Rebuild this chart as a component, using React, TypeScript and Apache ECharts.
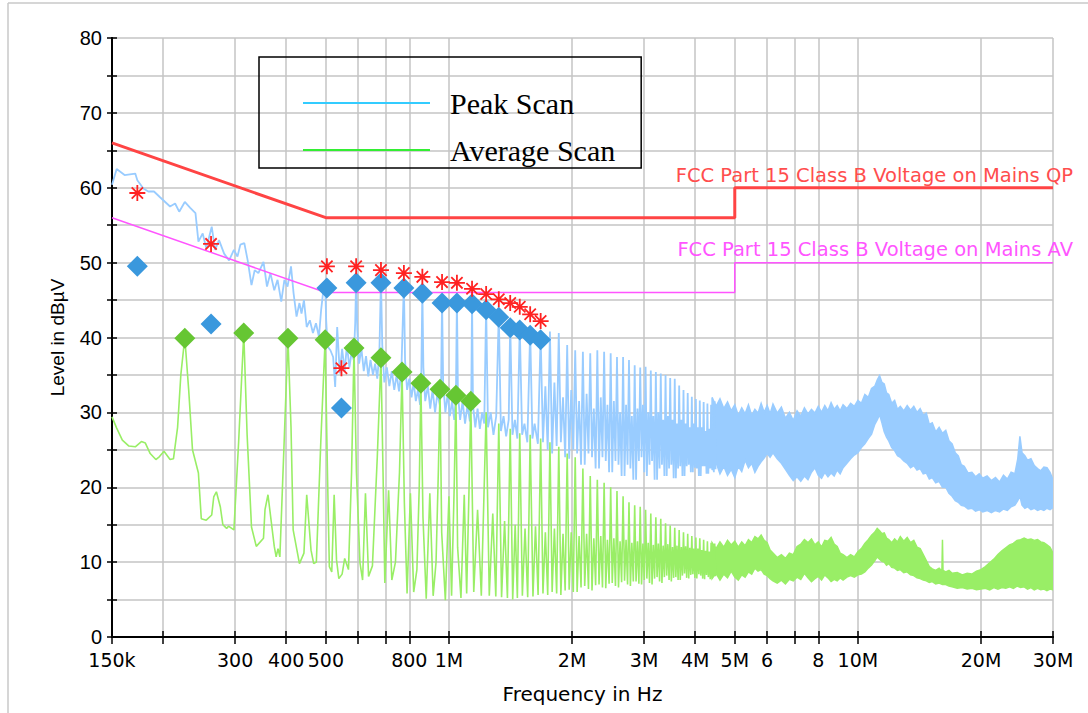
import React, { useEffect, useRef } from "react";
import * as echarts from "echarts";

// ---------- axis ticks (frequency in MHz) ----------
const tickFreqMHz = [0.15, 0.2, 0.3, 0.4, 0.5, 0.6, 0.7, 0.8, 1, 2, 3, 4, 5, 6, 7, 8, 10, 20, 30];
const tickLabels = ["150k", "", "300", "400", "500", "", "", "800", "1M", "2M", "3M", "4M", "5M", "6", "", "8", "10M", "20M", "30M"];

// ---------- limit lines ----------
const qpLimit: [number, number][] = [[0.15, 66], [0.5, 56], [5, 56], [5, 60], [30, 60]];
const avLimit: [number, number][] = [[0.15, 56], [0.5, 46], [5, 46], [5, 50], [30, 50]];

// ---------- Peak scan trace (MHz, dBuV) ----------
const peakTrace: [number, number][] = [
  [0.150, 60.4], [0.154, 62.5], [0.161, 61.7], [0.171, 61.9], [0.173, 61.0], [0.179, 59.9], [0.184, 59.5], [0.190, 59.5],
  [0.196, 58.8], [0.208, 57.5], [0.214, 57.9], [0.219, 56.8], [0.226, 58.1], [0.233, 57.3], [0.240, 56.6], [0.244, 52.8],
  [0.250, 53.9], [0.255, 51.9], [0.263, 54.8], [0.268, 51.7], [0.274, 53.0], [0.282, 51.2], [0.290, 50.3], [0.298, 51.7],
  [0.304, 50.8], [0.309, 52.4], [0.316, 52.6], [0.322, 50.3], [0.329, 47.0], [0.335, 49.0], [0.342, 48.6], [0.352, 50.1],
  [0.359, 46.8], [0.366, 48.6], [0.374, 46.3], [0.381, 47.7], [0.389, 44.8], [0.396, 47.7], [0.403, 46.8], [0.411, 49.5],
  [0.417, 45.9], [0.424, 42.8], [0.431, 44.6], [0.436, 43.2], [0.442, 45.0], [0.449, 41.4], [0.457, 42.3], [0.465, 40.6],
  [0.473, 41.9], [0.481, 40.1], [0.487, 43.7], [0.493, 46.3], [0.498, 47.3], [0.501, 42.3], [0.505, 38.8], [0.513, 38.3],
  [0.521, 37.4], [0.527, 33.4], [0.533, 41.4], [0.541, 35.2], [0.548, 38.5], [0.556, 35.5], [0.563, 39.0], [0.571, 36.0],
  [0.578, 38.0], [0.585, 37.0], [0.590, 42.0], [0.593, 47.8], [0.597, 41.0], [0.603, 36.5], [0.611, 38.5], [0.619, 35.5],
  [0.627, 37.5], [0.635, 34.8], [0.643, 37.0], [0.652, 35.0], [0.660, 36.5], [0.668, 34.5], [0.676, 38.0], [0.682, 47.8],
  [0.687, 39.0], [0.695, 34.0], [0.705, 36.0], [0.715, 33.5], [0.725, 35.5], [0.735, 33.0], [0.745, 35.0], [0.755, 32.8],
  [0.765, 35.5], [0.776, 47.2], [0.781, 37.0], [0.790, 33.0], [0.800, 34.5], [0.810, 32.0], [0.820, 34.0], [0.830, 31.5],
  [0.840, 33.0], [0.850, 31.0], [0.856, 35.0], [0.861, 46.5], [0.866, 36.0], [0.875, 31.5], [0.888, 33.5], [0.900, 30.5],
  [0.912, 33.0], [0.925, 30.0], [0.937, 32.5], [0.950, 31.0], [0.957, 34.0], [0.962, 45.2], [0.968, 34.0], [0.980, 30.0],
  [0.993, 32.5], [1.005, 29.5], [1.018, 31.5], [1.030, 29.0], [1.040, 32.0], [1.046, 45.2], [1.052, 32.5], [1.065, 29.0],
  [1.080, 31.5], [1.095, 28.5], [1.110, 31.0], [1.125, 28.8], [1.134, 32.0], [1.139, 45.0], [1.145, 31.0], [1.160, 28.0],
  [1.175, 30.5], [1.190, 27.8], [1.205, 30.0], [1.220, 28.5], [1.233, 44.3], [1.246, 28.0], [1.265, 30.0], [1.285, 27.0],
  [1.305, 29.5], [1.324, 43.3], [1.340, 27.5], [1.360, 29.5], [1.380, 26.8], [1.400, 29.0], [1.412, 42.0], [1.430, 27.0],
  [1.450, 29.0], [1.470, 26.5], [1.490, 41.5], [1.510, 27.0], [1.530, 28.5], [1.555, 26.0], [1.580, 41.0], [1.600, 26.5],
  [1.620, 28.5], [1.650, 25.8],
  [1.676, 40.4], [1.698, 26.0], [1.721, 33.5], [1.744, 25.0], [1.766, 40.8], [1.788, 24.5], [1.811, 34.0], [1.834, 25.5],
  [1.856, 40.6], [1.878, 26.0], [1.901, 32.0], [1.924, 24.0], [1.946, 39.0], [1.968, 23.8], [1.991, 33.0], [2.014, 25.0],
  [2.036, 38.3], [2.058, 24.5], [2.081, 31.5], [2.104, 23.0], [2.126, 38.1], [2.148, 23.0], [2.171, 32.5], [2.194, 24.5],
  [2.216, 37.9], [2.238, 24.0], [2.261, 30.5], [2.284, 22.5], [2.306, 38.3], [2.328, 22.5], [2.351, 32.0], [2.374, 24.0],
  [2.396, 38.1], [2.418, 23.5], [2.441, 31.0], [2.464, 22.0], [2.486, 37.9], [2.508, 22.0], [2.531, 31.5], [2.554, 23.5],
  [2.576, 37.4], [2.598, 23.0], [2.621, 30.0], [2.644, 21.5], [2.666, 37.4], [2.688, 21.5], [2.711, 31.0], [2.734, 23.0],
  [2.756, 37.0], [2.778, 22.5], [2.801, 29.5], [2.824, 21.0], [2.846, 36.3], [2.868, 21.0], [2.891, 30.5], [2.914, 23.5],
  [2.936, 36.0], [2.958, 24.0], [2.981, 31.0], [3.004, 22.0], [3.026, 36.1], [3.048, 21.5], [3.071, 30.0], [3.094, 23.0],
  [3.116, 35.6], [3.138, 23.5], [3.161, 29.5], [3.184, 21.0], [3.206, 35.4], [3.228, 21.0], [3.251, 30.0], [3.274, 22.5],
  [3.296, 35.2], [3.318, 23.0], [3.341, 29.0], [3.364, 21.5], [3.386, 35.0], [3.408, 21.5], [3.431, 29.5], [3.454, 22.5],
  [3.476, 34.6], [3.498, 23.0], [3.521, 29.0], [3.544, 21.2], [3.566, 34.5], [3.588, 21.2], [3.611, 28.5], [3.634, 22.5],
  [3.656, 33.6], [3.678, 22.8], [3.701, 29.0], [3.724, 21.5], [3.746, 33.0], [3.768, 21.5], [3.791, 28.5], [3.814, 22.8],
  [3.836, 32.6], [3.858, 23.0], [3.881, 28.0], [3.904, 22.0], [3.926, 32.1], [3.948, 22.0], [3.971, 28.5], [3.994, 22.6],
  [4.016, 31.8], [4.038, 22.5], [4.061, 28.0], [4.084, 21.5], [4.106, 31.6], [4.128, 21.5], [4.151, 28.0], [4.174, 22.8],
  [4.196, 31.4], [4.218, 22.8], [4.241, 27.5], [4.264, 21.8], [4.286, 31.2], [4.308, 21.8], [4.331, 27.8], [4.354, 22.5],
  [4.376, 31.0], [4.398, 22.5], [4.421, 28.0], [4.444, 22.0], [4.466, 31.5], [4.488, 22.4],
];

// dense part of the peak scan: upper / lower envelope
const peakBandHigh: [number, number][] = [
  [4.4, 32.0], [4.5, 30.8], [4.6, 31.8], [4.7, 30.5], [4.8, 31.4], [4.9, 30.2], [5.0, 31.0], [5.1, 29.6], [5.2, 30.6],
  [5.3, 29.8], [5.4, 31.0], [5.5, 29.6], [5.6, 30.4], [5.7, 29.9], [5.8, 31.2], [5.9, 30.0], [6.0, 30.9], [6.1, 29.8],
  [6.2, 31.1], [6.35, 29.9], [6.5, 30.7], [6.65, 29.2], [6.8, 30.0], [6.95, 28.9], [7.1, 30.2], [7.25, 29.5], [7.4, 30.6],
  [7.55, 29.8], [7.7, 30.4], [7.85, 29.9], [8.0, 30.8], [8.15, 30.0], [8.3, 30.9], [8.45, 30.2], [8.6, 31.3], [8.75, 30.4],
  [8.9, 30.9], [9.05, 30.2], [9.2, 31.0], [9.4, 30.5], [9.6, 31.2], [9.8, 30.8], [10.0, 31.6], [10.2, 31.2], [10.4, 32.4],
  [10.6, 32.0], [10.8, 33.2], [11.0, 33.5], [11.15, 34.3], [11.3, 34.9], [11.45, 34.0], [11.6, 33.8], [11.75, 32.6],
  [11.9, 32.4], [12.1, 31.2], [12.3, 31.6], [12.5, 30.4], [12.7, 30.8], [12.95, 30.2], [13.2, 30.9], [13.45, 30.3],
  [13.7, 30.8], [13.95, 30.0], [14.2, 30.5], [14.45, 29.6], [14.7, 29.9], [14.95, 28.4], [15.2, 28.6], [15.5, 27.4],
  [15.8, 28.0], [16.1, 27.2], [16.4, 27.6], [16.7, 26.2], [17.0, 25.8], [17.3, 24.6], [17.6, 24.2], [17.9, 23.0],
  [18.2, 22.8], [18.6, 21.9], [19.0, 22.0], [19.4, 21.4], [19.8, 21.8], [20.2, 21.2], [20.7, 21.5], [21.2, 20.9],
  [21.7, 21.3], [22.2, 20.7], [22.7, 21.6], [23.2, 21.1], [23.7, 22.0], [24.2, 21.8], [24.6, 23.8], [24.9, 26.8],
  [25.2, 24.6], [25.6, 24.2], [26.0, 23.6], [26.5, 23.8], [27.0, 22.9], [27.5, 22.5], [28.0, 22.2], [28.5, 22.7],
  [29.0, 22.6], [29.5, 22.0], [30.0, 21.0],
];
const peakBandLow: [number, number][] = [
  [4.4, 22.3], [4.5, 23.3], [4.6, 21.8], [4.7, 22.8], [4.8, 21.6], [4.9, 22.4], [5.0, 21.3], [5.1, 22.8], [5.2, 22.1],
  [5.3, 23.6], [5.4, 22.6], [5.5, 23.2], [5.6, 22.0], [5.7, 22.8], [5.8, 23.4], [5.9, 23.9], [6.0, 24.5], [6.1, 24.0],
  [6.2, 24.6], [6.35, 23.8], [6.5, 23.2], [6.65, 22.4], [6.8, 21.6], [6.95, 20.9], [7.1, 21.4], [7.25, 20.8], [7.4, 21.5],
  [7.55, 21.0], [7.7, 22.0], [7.85, 22.6], [8.0, 21.6], [8.15, 21.2], [8.3, 22.0], [8.45, 21.4], [8.6, 21.9], [8.75, 21.5],
  [8.9, 22.3], [9.05, 21.8], [9.2, 22.6], [9.4, 23.2], [9.6, 23.8], [9.8, 24.3], [10.0, 24.6], [10.2, 25.3], [10.4, 25.8],
  [10.6, 26.5], [10.8, 27.1], [11.0, 28.4], [11.15, 29.0], [11.3, 29.7], [11.45, 28.6], [11.6, 27.4], [11.75, 26.7],
  [11.9, 26.2], [12.1, 25.3], [12.3, 24.9], [12.5, 24.2], [12.7, 24.0], [12.95, 23.5], [13.2, 23.2], [13.45, 22.6],
  [13.7, 22.9], [13.95, 22.3], [14.2, 22.5], [14.45, 21.8], [14.7, 21.9], [14.95, 21.1], [15.2, 21.3], [15.5, 20.6],
  [15.8, 20.8], [16.1, 20.0], [16.4, 20.0], [16.7, 19.2], [17.0, 18.8], [17.3, 18.2], [17.6, 18.0], [17.9, 17.6],
  [18.2, 17.5], [18.6, 17.1], [19.0, 17.2], [19.4, 16.8], [19.8, 17.0], [20.2, 16.7], [20.7, 16.9], [21.2, 16.6],
  [21.7, 16.9], [22.2, 16.7], [22.7, 17.1], [23.2, 16.9], [23.7, 17.4], [24.2, 17.6], [24.6, 18.2], [24.9, 18.8],
  [25.2, 17.6], [25.6, 17.2], [26.0, 17.4], [26.5, 17.0], [27.0, 17.2], [27.5, 16.9], [28.0, 17.1], [28.5, 16.9],
  [29.0, 17.2], [29.5, 17.0], [30.0, 17.3],
];

// ---------- Average scan trace ----------
const avgTrace: [number, number][] = [
  [0.150, 29.4], [0.154, 27.9], [0.159, 26.3], [0.165, 25.5], [0.171, 25.4], [0.177, 26.1], [0.181, 25.9], [0.186, 24.5],
  [0.192, 23.7], [0.196, 24.1], [0.201, 24.8], [0.208, 23.7], [0.212, 23.8], [0.217, 28.0], [0.221, 35.0], [0.226, 40.0],
  [0.231, 33.0], [0.236, 25.0], [0.244, 21.9], [0.248, 15.8], [0.255, 15.6], [0.263, 16.3], [0.266, 18.7], [0.270, 19.4],
  [0.276, 17.4], [0.280, 15.0], [0.286, 14.5], [0.289, 14.8], [0.298, 14.3], [0.306, 26.0], [0.315, 40.6], [0.321, 27.0],
  [0.329, 14.7], [0.338, 12.1], [0.352, 13.2], [0.355, 17.0], [0.361, 19.0], [0.374, 12.1], [0.378, 10.7], [0.382, 11.8],
  [0.386, 10.7], [0.396, 27.0], [0.404, 39.9], [0.411, 28.0], [0.416, 14.3], [0.431, 9.8], [0.442, 11.2], [0.449, 19.0],
  [0.460, 11.6], [0.467, 9.8], [0.474, 10.0], [0.486, 26.0], [0.498, 39.7], [0.505, 21.0], [0.510, 9.4], [0.517, 8.7],
  [0.524, 19.0], [0.531, 10.3], [0.538, 7.8], [0.548, 8.4], [0.556, 10.5], [0.568, 9.0], [0.578, 22.0], [0.586, 38.6],
  [0.594, 22.0], [0.606, 9.9], [0.615, 7.6], [0.625, 19.2], [0.636, 8.1], [0.650, 9.5], [0.668, 24.0], [0.682, 37.3],
  [0.690, 22.0], [0.697, 7.2], [0.712, 19.6], [0.725, 7.6], [0.740, 10.0], [0.757, 22.0], [0.768, 35.4], [0.778, 18.0],
  [0.790, 5.8], [0.805, 19.2], [0.820, 6.0], [0.835, 9.0], [0.846, 20.0], [0.854, 33.9], [0.864, 16.0], [0.880, 5.1],
  [0.898, 19.2], [0.915, 5.5], [0.930, 10.0], [0.942, 22.0], [0.951, 33.1], [0.960, 14.0], [0.980, 4.9], [1.000, 18.8],
  [1.015, 5.5], [1.030, 20.0], [1.040, 32.3], [1.050, 12.0], [1.070, 5.2], [1.090, 19.0], [1.105, 5.8], [1.120, 20.0],
  [1.131, 31.5], [1.150, 6.0], [1.175, 17.0], [1.200, 5.5], [1.233, 30.0], [1.255, 5.5], [1.280, 16.5], [1.302, 5.4],
  [1.324, 28.5], [1.345, 5.3], [1.368, 15.5], [1.390, 5.2], [1.412, 27.8], [1.432, 5.0], [1.452, 15.0], [1.470, 5.2],
  [1.490, 27.2], [1.512, 5.5], [1.535, 14.5], [1.558, 5.3], [1.580, 27.0], [1.605, 5.4], [1.628, 14.8], [1.652, 5.6],
  [1.676, 26.5], [1.698, 5.8], [1.721, 14.0], [1.744, 5.6], [1.766, 26.0], [1.788, 6.0], [1.811, 14.5], [1.834, 5.8],
  [1.856, 25.4], [1.878, 5.6], [1.901, 13.8], [1.924, 6.2], [1.946, 24.5], [1.968, 6.3], [1.991, 14.0], [2.014, 6.0],
  [2.036, 24.0], [2.058, 6.0], [2.081, 13.5], [2.104, 6.6], [2.126, 22.5], [2.148, 6.8], [2.171, 13.8], [2.194, 6.4],
  [2.216, 21.5], [2.238, 6.2], [2.261, 13.2], [2.284, 6.9], [2.306, 21.0], [2.328, 7.0], [2.351, 13.5], [2.374, 6.6],
  [2.396, 20.6], [2.418, 6.5], [2.441, 13.0], [2.464, 7.1], [2.486, 20.0], [2.508, 7.2], [2.531, 13.2], [2.554, 6.8],
  [2.576, 19.5], [2.598, 6.6], [2.621, 12.8], [2.644, 7.3], [2.666, 18.8], [2.688, 7.5], [2.711, 13.0], [2.734, 7.0],
  [2.756, 18.0], [2.778, 6.8], [2.801, 12.6], [2.824, 7.4], [2.846, 17.6], [2.868, 7.4], [2.891, 12.8], [2.914, 7.1],
  [2.936, 17.4], [2.958, 7.0], [2.981, 12.5], [3.004, 7.6], [3.026, 17.0], [3.048, 7.8], [3.071, 12.6], [3.094, 7.2],
  [3.116, 16.5], [3.138, 7.0], [3.161, 12.3], [3.184, 7.8], [3.206, 16.0], [3.228, 8.0], [3.251, 12.5], [3.274, 7.4],
  [3.296, 15.8], [3.318, 7.2], [3.341, 12.2], [3.364, 8.0], [3.386, 15.2], [3.408, 8.2], [3.431, 12.4], [3.454, 7.6],
  [3.476, 14.9], [3.498, 7.4], [3.521, 12.0], [3.544, 7.9], [3.566, 14.6], [3.588, 8.0], [3.611, 12.2], [3.634, 7.6],
  [3.656, 14.3], [3.678, 7.6], [3.701, 12.0], [3.724, 8.2], [3.746, 14.0], [3.768, 8.5], [3.791, 12.1], [3.814, 7.9],
  [3.836, 13.8], [3.858, 7.8], [3.881, 11.9], [3.904, 8.3], [3.926, 13.5], [3.948, 8.4], [3.971, 11.8], [3.994, 7.9],
  [4.016, 13.3], [4.038, 7.8], [4.061, 11.8], [4.084, 8.4], [4.106, 13.2], [4.128, 8.2], [4.151, 11.6], [4.174, 7.8],
  [4.196, 13.0], [4.218, 7.7], [4.241, 11.5], [4.264, 8.3], [4.286, 12.8], [4.308, 8.0], [4.331, 11.4], [4.354, 7.7],
  [4.376, 12.6], [4.398, 7.8], [4.421, 11.5], [4.444, 8.2], [4.466, 12.5], [4.488, 8.1],
];
const avgBandHigh: [number, number][] = [
  [4.4, 12.6], [4.5, 11.8], [4.6, 12.7], [4.7, 12.0], [4.8, 12.9], [4.9, 12.3], [5.0, 12.8], [5.1, 12.0], [5.2, 12.7],
  [5.3, 12.2], [5.4, 13.0], [5.5, 12.6], [5.6, 13.4], [5.7, 13.1], [5.8, 13.6], [5.9, 12.9], [6.0, 12.6], [6.1, 11.6],
  [6.2, 11.2], [6.35, 10.6], [6.5, 11.0], [6.65, 10.5], [6.8, 11.2], [6.95, 11.0], [7.1, 12.1], [7.25, 12.4], [7.4, 13.0],
  [7.55, 12.6], [7.7, 13.1], [7.85, 12.3], [8.0, 12.7], [8.15, 12.0], [8.3, 12.9], [8.45, 12.8], [8.6, 13.3], [8.75, 12.4],
  [8.9, 12.1], [9.05, 11.2], [9.2, 11.0], [9.4, 10.6], [9.6, 11.0], [9.8, 10.7], [10.0, 11.4], [10.2, 11.8], [10.4, 12.5],
  [10.6, 13.0], [10.8, 13.6], [11.0, 14.0], [11.15, 14.5], [11.3, 14.2], [11.45, 13.8], [11.6, 13.9], [11.75, 13.2],
  [11.9, 13.0], [12.1, 12.6], [12.3, 13.1], [12.5, 12.7], [12.7, 13.4], [12.95, 12.8], [13.2, 13.3], [13.45, 12.6],
  [13.7, 12.9], [13.95, 12.0], [14.2, 11.8], [14.45, 11.0], [14.7, 10.2], [14.95, 9.4], [15.2, 9.1], [15.5, 8.9],
  [15.8, 9.2], [16.05, 8.8], [16.1, 13.0], [16.15, 8.9], [16.4, 8.7], [16.7, 8.9], [17.0, 8.5], [17.5, 8.6], [18.0, 8.3],
  [18.5, 8.5], [19.0, 8.4], [19.5, 8.8], [20.0, 9.0], [20.5, 9.4], [21.0, 9.9], [21.5, 10.4], [22.0, 11.0], [22.5, 11.5],
  [23.0, 11.9], [23.5, 12.3], [24.0, 12.5], [24.5, 12.9], [25.0, 13.0], [25.5, 13.2], [26.0, 13.0], [26.5, 13.1],
  [27.0, 12.9], [27.5, 13.0], [28.0, 12.7], [28.5, 12.6], [29.0, 12.3], [29.5, 12.0], [30.0, 11.2],
];
const avgBandLow: [number, number][] = [
  [4.4, 7.8], [4.5, 8.5], [4.6, 7.6], [4.7, 8.4], [4.8, 7.9], [4.9, 8.8], [5.0, 8.0], [5.1, 7.6], [5.2, 8.3], [5.3, 8.0],
  [5.4, 8.7], [5.5, 8.4], [5.6, 9.2], [5.7, 8.8], [5.8, 9.0], [5.9, 8.4], [6.0, 8.2], [6.1, 7.8], [6.2, 7.5], [6.35, 7.2],
  [6.5, 7.6], [6.65, 7.1], [6.8, 7.7], [6.95, 7.5], [7.1, 8.0], [7.25, 7.7], [7.4, 8.5], [7.55, 7.9], [7.7, 7.4],
  [7.85, 7.8], [8.0, 8.1], [8.15, 7.6], [8.3, 8.3], [8.45, 7.9], [8.6, 7.4], [8.75, 7.7], [8.9, 7.5], [9.05, 7.9],
  [9.2, 7.6], [9.4, 8.0], [9.6, 8.2], [9.8, 8.0], [10.0, 8.3], [10.2, 8.4], [10.4, 8.7], [10.6, 9.2], [10.8, 9.6],
  [11.0, 10.2], [11.15, 10.7], [11.3, 10.4], [11.45, 10.1], [11.6, 10.0], [11.75, 9.6], [11.9, 9.8], [12.1, 9.3],
  [12.3, 9.2], [12.5, 8.9], [12.7, 9.0], [12.95, 8.6], [13.2, 8.7], [13.45, 8.3], [13.7, 8.2], [13.95, 7.9], [14.2, 7.8],
  [14.45, 7.6], [14.7, 7.5], [14.95, 7.3], [15.2, 7.4], [15.5, 7.1], [15.8, 7.2], [16.1, 7.0], [16.4, 7.0], [16.7, 6.8],
  [17.0, 6.7], [17.5, 6.5], [18.0, 6.6], [18.5, 6.4], [19.0, 6.5], [19.5, 6.3], [20.0, 6.4], [20.5, 6.5], [21.0, 6.3],
  [21.5, 6.6], [22.0, 6.4], [22.5, 6.6], [23.0, 6.5], [23.5, 6.7], [24.0, 6.5], [24.5, 6.8], [25.0, 6.6], [25.5, 6.7],
  [26.0, 6.4], [26.5, 6.6], [27.0, 6.3], [27.5, 6.5], [28.0, 6.3], [28.5, 6.4], [29.0, 6.2], [29.5, 6.4], [30.0, 6.3],
];

// ---------- final measurement markers ----------
const qpMarks: [number, number][] = [
  [0.173, 59.3], [0.262, 52.5], [0.503, 49.5], [0.546, 35.9], [0.593, 49.5], [0.682, 49.0], [0.776, 48.6], [0.861, 48.1],
  [0.962, 47.4], [1.046, 47.3], [1.139, 46.5], [1.233, 45.8], [1.324, 45.1], [1.412, 44.6], [1.490, 44.1], [1.580, 43.1],
  [1.676, 42.2],
];
const peakMarks: [number, number][] = [
  [0.173, 49.5], [0.262, 41.8], [0.503, 46.6], [0.546, 30.6], [0.593, 47.3], [0.682, 47.3], [0.776, 46.6], [0.861, 45.9],
  [0.962, 44.6], [1.046, 44.6], [1.139, 44.5], [1.233, 43.7], [1.324, 42.7], [1.412, 41.3], [1.490, 41.0], [1.580, 40.3],
  [1.676, 39.7],
];
const avgMarks: [number, number][] = [
  [0.226, 39.9], [0.315, 40.6], [0.404, 39.9], [0.498, 39.7], [0.586, 38.6], [0.682, 37.3], [0.768, 35.4], [0.854, 33.9],
  [0.951, 33.1], [1.040, 32.3], [1.131, 31.5],
];

// ---------- helpers ----------
const lx = (mhz: number) => Math.log10(mhz);
const toXY = (arr: [number, number][]) => arr.map(([f, v]) => [lx(f), v]);
const X_MIN = lx(0.15);
const X_MAX = lx(30);
const tickVals = tickFreqMHz.map(lx);
const labelVals = tickVals.filter((_, i) => tickLabels[i] !== "");
const fmtX = (v: number) => {
  let best = -1;
  let d = Infinity;
  tickVals.forEach((t, i) => {
    const dd = Math.abs(t - v);
    if (dd < d) { d = dd; best = i; }
  });
  return d < 1e-6 ? tickLabels[best] : "";
};

const PEAK_COLOR = "#99ccff";
const AVG_COLOR = "#99ee66";

const bandSeries = (name: string, hi: [number, number][], lo: [number, number][], color: string, z: number) => ({
  type: "custom",
  name,
  coordinateSystem: "cartesian2d",
  xAxisIndex: 0,
  yAxisIndex: 0,
  z,
  silent: true,
  clip: true,
  data: [[lx(hi[0][0]), hi[0][1]]],
  renderItem: (_params: any, api: any) => {
    const pts = hi
      .map((p) => api.coord([lx(p[0]), p[1]]))
      .concat(lo.slice().reverse().map((p) => api.coord([lx(p[0]), p[1]])));
    return {
      type: "polygon",
      shape: { points: pts },
      style: { fill: color, stroke: color, lineWidth: 1.5 },
    };
  },
});

const ASTERISK = "path://M10,0 L10,20 M0,10 L20,10 M2.93,2.93 L17.07,17.07 M2.93,17.07 L17.07,2.93";

const axisTextSans = "DejaVu Sans";

const option: any = {
  animation: false,
  backgroundColor: "#ffffff",
  grid: { left: 112, right: 35, top: 38, bottom: 76, containLabel: false, outerBoundsMode: "none" },
  legend: {
    show: true,
    left: 259,
    top: 57,
    orient: "vertical",
    selectedMode: false,
    itemWidth: 127,
    itemHeight: 2,
    itemGap: 17,
    padding: [31, 26, 3, 44],
    borderColor: "#000",
    borderWidth: 1.5,
    backgroundColor: "transparent",
    textStyle: { fontFamily: "Liberation Serif", fontSize: 30, lineHeight: 30, color: "#000", padding: [0, 0, 0, 15] },
    data: [
      { name: "Peak Scan", icon: "rect", itemStyle: { color: "#33ccff" } },
      { name: "Average Scan", icon: "rect", itemStyle: { color: "#33ee33" } },
    ],
  },
  xAxis: [
    {
      type: "value",
      min: X_MIN,
      max: X_MAX,
      position: "bottom",
      name: "Frequency in Hz",
      nameLocation: "middle",
      nameGap: 47,
      nameTextStyle: { fontFamily: axisTextSans, fontSize: 20, color: "#000" },
      axisLine: { show: true, onZero: false, lineStyle: { color: "#000", width: 2 } },
      axisTick: { show: true, customValues: tickVals, length: 7, lineStyle: { color: "#000", width: 1.5 } },
      axisLabel: {
        show: true,
        customValues: labelVals,
        formatter: fmtX,
        margin: 13,
        fontFamily: axisTextSans,
        fontSize: 19,
        color: "#000",
      },
      splitLine: { show: true, lineStyle: { color: "#c4c4c4", width: 1.5 } },
    },
    {
      type: "value",
      min: X_MIN,
      max: X_MAX,
      position: "bottom",
      axisLine: { show: true, onZero: false, lineStyle: { color: "#000", width: 2 } },
      axisTick: { show: true, inside: true, customValues: tickVals, length: 6, lineStyle: { color: "#000", width: 1.5 } },
      axisLabel: { show: false },
      splitLine: { show: false },
    },
  ],
  yAxis: [
    {
      type: "value",
      min: 0,
      max: 80,
      interval: 5,
      position: "left",
      name: "Level in dBµV",
      nameLocation: "middle",
      nameGap: 45,
      nameTextStyle: { fontFamily: "Liberation Sans", fontSize: 19, color: "#000" },
      axisLine: { show: true, onZero: false, lineStyle: { color: "#000", width: 2 } },
      axisTick: { show: true, length: 5, lineStyle: { color: "#000", width: 1.5 } },
      axisLabel: {
        margin: 10,
        fontFamily: "Liberation Sans",
        fontSize: 20,
        color: "#000",
        formatter: (v: number) => (v % 10 === 0 ? String(v) : ""),
      },
      splitLine: { show: true, lineStyle: { color: "#c4c4c4", width: 1.5 } },
    },
    {
      type: "value",
      min: 0,
      max: 80,
      interval: 5,
      position: "left",
      axisLine: { show: true, onZero: false, lineStyle: { color: "#000", width: 2 } },
      axisTick: { show: true, inside: true, length: 5, lineStyle: { color: "#000", width: 1.5 } },
      axisLabel: { show: false },
      splitLine: { show: false },
    },
  ],
  graphic: [
    { type: "line", silent: true, shape: { x1: 8, y1: 3, x2: 1088, y2: 3 }, style: { stroke: "#c8c8c8", lineWidth: 1.5 } },
    { type: "line", silent: true, shape: { x1: 8, y1: 3, x2: 8, y2: 713 }, style: { stroke: "#c8c8c8", lineWidth: 1.5 } },
    {
      type: "text",
      silent: true,
      x: 1073,
      y: 175,
      z: 100,
      style: {
        text: "FCC Part 15 Class B Voltage on Mains QP",
        fill: "#ff4d4d",
        font: '19.5px "DejaVu Sans"',
        align: "right",
        verticalAlign: "middle",
      },
    },
    {
      type: "text",
      silent: true,
      x: 1073,
      y: 249,
      z: 100,
      style: {
        text: "FCC Part 15 Class B Voltage on Mains AV",
        fill: "#ff55ff",
        font: '19.5px "DejaVu Sans"',
        align: "right",
        verticalAlign: "middle",
      },
    },
  ],
  series: [
    bandSeries("Peak Scan band", peakBandHigh, peakBandLow, PEAK_COLOR, 1),
    {
      type: "line",
      name: "Peak Scan",
      data: toXY(peakTrace),
      showSymbol: false,
      symbol: "none",
      z: 2,
      itemStyle: { color: "#33ccff" },
      lineStyle: { color: PEAK_COLOR, width: 1.8 },
      silent: true,
    },
    bandSeries("Average Scan band", avgBandHigh, avgBandLow, AVG_COLOR, 3),
    {
      type: "line",
      name: "Average Scan",
      data: toXY(avgTrace),
      showSymbol: false,
      symbol: "none",
      z: 4,
      itemStyle: { color: "#33ee33" },
      lineStyle: { color: AVG_COLOR, width: 1.6 },
      silent: true,
    },
    {
      type: "line",
      name: "FCC Part 15 Class B Voltage on Mains QP",
      data: toXY(qpLimit),
      showSymbol: false,
      symbol: "none",
      z: 5,
      lineStyle: { color: "#ff4444", width: 3 },
      silent: true,
    },
    {
      type: "line",
      name: "FCC Part 15 Class B Voltage on Mains AV",
      data: toXY(avLimit),
      showSymbol: false,
      symbol: "none",
      z: 5,
      lineStyle: { color: "#ff55ff", width: 1.5 },
      silent: true,
    },
    {
      type: "scatter",
      name: "Peak final",
      data: toXY(peakMarks),
      symbol: "diamond",
      symbolSize: 21,
      z: 6,
      itemStyle: { color: "#3a98dd", opacity: 1 },
      silent: true,
    },
    {
      type: "scatter",
      name: "Average final",
      data: toXY(avgMarks),
      symbol: "diamond",
      symbolSize: 21,
      z: 6,
      itemStyle: { color: "#66c633", opacity: 1 },
      silent: true,
    },
    {
      type: "scatter",
      name: "QP final",
      data: toXY(qpMarks),
      symbol: ASTERISK,
      symbolSize: 16,
      z: 7,
      itemStyle: { color: "rgba(0,0,0,0)", borderColor: "#ff2222", borderWidth: 1.8, opacity: 1 },
      silent: true,
    },
  ],
};

export default function App() {
  const ref = useRef<HTMLDivElement>(null);
  useEffect(() => {
    document.body.style.margin = "0";
    const chart = echarts.init(ref.current as HTMLDivElement, null, { renderer: "svg" });
    chart.setOption(option);
    return () => {
      chart.dispose();
    };
  }, []);
  return <div ref={ref} style={{ width: 1088, height: 713 }} />;
}
